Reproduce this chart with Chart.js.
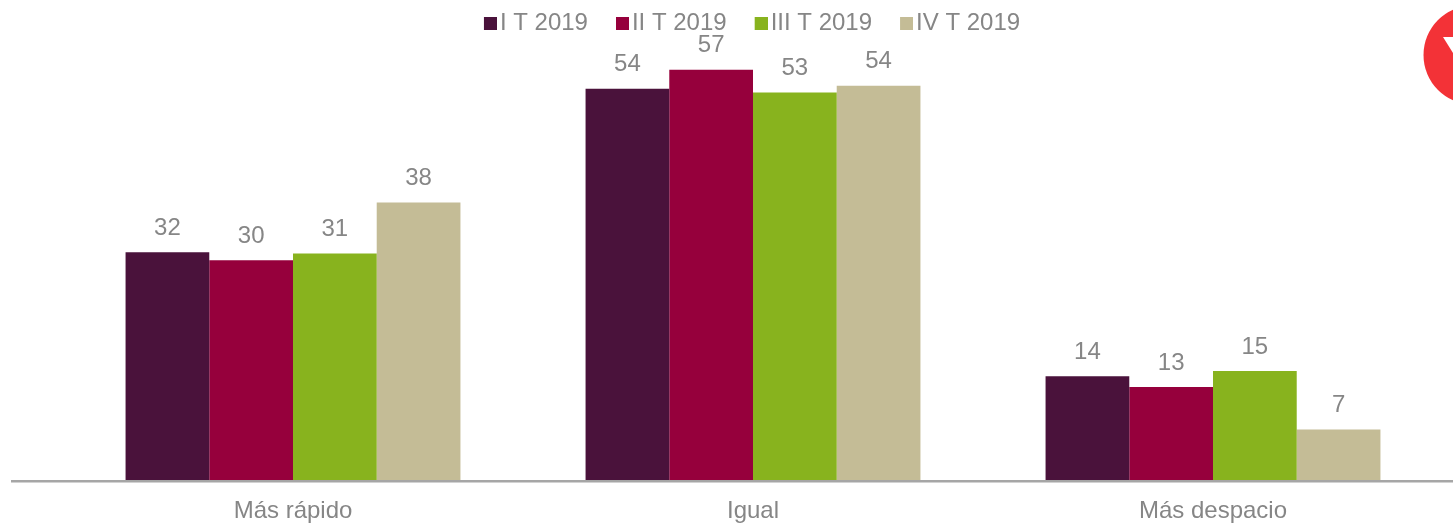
<!DOCTYPE html>
<html>
<head>
<meta charset="utf-8">
<style>html,body{margin:0;padding:0;background:#fff;overflow:hidden}canvas{display:block}</style>
<script src="https://cdn.jsdelivr.net/npm/chart.js@4"></script>
</head>
<body>
<canvas id="c" width="1453" height="523"></canvas>
<script>
const categories = ['Más rápido', 'Igual', 'Más despacio'];
const seriesNames = ['I T 2019', 'II T 2019', 'III T 2019', 'IV T 2019'];
const seriesColors = ['#4A123B', '#96003C', '#88B31E', '#C4BC96'];
const q1Values = [31.4, 53.8, 14.4];
const q2Values = [30.3, 56.4, 12.9];
const q3Values = [31.2, 53.3, 15.1];
const q4Values = [38.2, 54.2, 7.1];
const q1Labels = ['32', '54', '14'];
const q2Labels = ['30', '57', '13'];
const q3Labels = ['31', '53', '15'];
const q4Labels = ['38', '54', '7'];
const allValues = [q1Values, q2Values, q3Values, q4Values];
const allLabels = [q1Labels, q2Labels, q3Labels, q4Labels];
const textColor = '#868686';
const fontFamily = '"Liberation Sans", Arial, sans-serif';

function swatch(color) {
  const s = document.createElement('canvas');
  s.width = 20; s.height = 13;
  const g = s.getContext('2d');
  g.fillStyle = color;
  g.fillRect(7, 0, 13, 13);
  return s;
}

const decorPlugin = {
  id: 'decor',
  beforeDatasetsDraw(chart) {
    const { ctx } = chart;
    ctx.save();
    ctx.fillStyle = '#F33237';
    ctx.beginPath();
    ctx.arc(1473, 55, 49.5, 0, Math.PI * 2);
    ctx.fill();
    ctx.fillStyle = '#fff';
    ctx.beginPath();
    ctx.moveTo(1443, 37);
    ctx.lineTo(1503, 37);
    ctx.lineTo(1473, 85);
    ctx.closePath();
    ctx.fill();
    ctx.restore();
  },
  afterDatasetsDraw(chart) {
    const { ctx, scales } = chart;
    const y0 = scales.y.getPixelForValue(0);
    ctx.save();
    ctx.strokeStyle = '#A6A6A6';
    ctx.lineWidth = 2.5;
    ctx.beginPath();
    ctx.moveTo(11, y0);
    ctx.lineTo(1453, y0);
    ctx.stroke();
    ctx.fillStyle = textColor;
    ctx.font = '24px ' + fontFamily;
    ctx.textAlign = 'center';
    ctx.textBaseline = 'middle';
    chart.data.datasets.forEach((ds, i) => {
      chart.getDatasetMeta(i).data.forEach((bar, j) => {
        ctx.fillText(allLabels[i][j], bar.x, bar.y - 24);
      });
    });
    ctx.restore();
  }
};

new Chart(document.getElementById('c'), {
  type: 'bar',
  data: {
    labels: categories,
    datasets: seriesNames.map((name, i) => ({
      label: name,
      data: allValues[i],
      backgroundColor: seriesColors[i],
      borderWidth: 0,
      categoryPercentage: 0.728,
      barPercentage: 1
    }))
  },
  options: {
    responsive: false,
    animation: false,
    layout: { padding: { left: 63, right: 10, top: -19, bottom: -19 } },
    plugins: {
      tooltip: { enabled: false },
      legend: {
        display: true,
        position: 'top',
        align: 'center',
        labels: {
          color: textColor,
          font: { family: fontFamily, size: 24 },
          usePointStyle: true,
          boxWidth: 2,
          padding: 30,
          generateLabels: chart => chart.data.datasets.map((ds, i) => ({
            text: ds.label,
            fontColor: textColor,
            pointStyle: swatch(seriesColors[i]),
            datasetIndex: i,
            lineWidth: 0,
            strokeStyle: 'transparent',
            fillStyle: seriesColors[i]
          }))
        }
      }
    },
    scales: {
      x: {
        grid: { display: false, drawTicks: false },
        border: { display: false },
        ticks: { color: textColor, font: { family: fontFamily, size: 24 }, padding: 16, maxRotation: 0 }
      },
      y: { display: false, min: 0, max: 59.8 }
    }
  },
  plugins: [decorPlugin]
});
</script>
</body>
</html>
